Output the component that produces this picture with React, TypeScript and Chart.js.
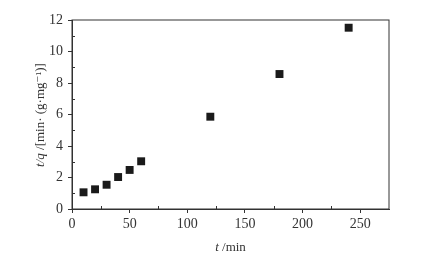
import React, { useEffect, useRef } from "react";
import { Chart, registerables } from "chart.js";

Chart.register(...registerables);

const timeMin = [10, 20, 30, 40, 50, 60, 120, 180, 240];
const tOverQ = [1.06, 1.25, 1.54, 2.03, 2.48, 3.03, 5.86, 8.57, 11.51];
const xTicks = [0, 50, 100, 150, 200, 250];
const yTicks = [0, 2, 4, 6, 8, 10, 12];

const FONT = "'Liberation Serif', 'DejaVu Serif', serif";
const INK = "#333333";

const framePlugin = {
  id: "frame",
  afterDraw(chart: any) {
    const { ctx, chartArea: a, scales } = chart;
    const x = scales.x, y = scales.y;
    ctx.save();
    ctx.strokeStyle = INK;
    ctx.lineWidth = 1;
    ctx.strokeRect(a.left, a.top, a.right - a.left, a.bottom - a.top);
    ctx.beginPath();
    for (let v = 25; v < 275; v += 50) {
      const px = Math.round(x.getPixelForValue(v)) + 0.5;
      ctx.moveTo(px, a.bottom);
      ctx.lineTo(px, a.bottom - 3);
    }
    for (let v = 1; v < 12; v += 2) {
      const py = Math.round(y.getPixelForValue(v)) + 0.5;
      ctx.moveTo(a.left, py);
      ctx.lineTo(a.left + 3, py);
    }
    ctx.stroke();
    ctx.fillStyle = INK;
    ctx.textBaseline = "middle";
    const drawMixed = (parts: [string, boolean][], cx: number, cy: number, rot: number) => {
      ctx.save();
      ctx.translate(cx, cy);
      ctx.rotate(rot);
      let total = 0;
      const widths = parts.map(([t, it]) => {
        ctx.font = `${it ? "italic " : ""}13px ${FONT}`;
        const w = ctx.measureText(t).width;
        total += w;
        return w;
      });
      let pos = -total / 2;
      parts.forEach(([t, it], i) => {
        ctx.font = `${it ? "italic " : ""}13px ${FONT}`;
        ctx.textAlign = "left";
        ctx.fillText(t, pos, 0);
        pos += widths[i];
      });
      ctx.restore();
    };
    drawMixed([["t", true], [" /min", false]], (a.left + a.right) / 2, 248, 0);
    drawMixed([["t/q", true], [" /[min· (g·mg⁻¹)]", false]], 41, 115, -Math.PI / 2);
    ctx.restore();
  },
};

export default function App() {
  const ref = useRef<HTMLCanvasElement>(null);
  useEffect(() => {
    document.body.style.margin = "0";
    const chart = new Chart(ref.current!, {
      type: "scatter",
      data: {
        datasets: [
          {
            data: timeMin.map((t, i) => ({ x: t, y: tOverQ[i] })),
            pointStyle: "rect",
            radius: 5.6,
            backgroundColor: "#1a1a1a",
            borderColor: "#1a1a1a",
            borderWidth: 0,
          },
        ],
      },
      plugins: [framePlugin],
      options: {
        animation: false,
        responsive: false,
        layout: { padding: { top: 20, right: 36, left: 0, bottom: 0 } },
        plugins: { legend: { display: false }, tooltip: { enabled: false } },
        scales: {
          x: {
            type: "linear",
            min: 0,
            max: 275,
            afterFit: (s: any) => { s.height = 49; },
            afterBuildTicks: (s: any) => { s.ticks = xTicks.map((v) => ({ value: v })); },
            grid: { display: true, drawOnChartArea: false, drawTicks: true, tickLength: 4, color: INK },
            border: { display: true, color: INK },
            ticks: { color: INK, font: { family: FONT, size: 14 }, padding: 3, maxRotation: 0 },
          },
          y: {
            type: "linear",
            min: 0,
            max: 12,
            afterFit: (s: any) => { s.width = 72; },
            afterBuildTicks: (s: any) => { s.ticks = yTicks.map((v) => ({ value: v })); },
            grid: { display: true, drawOnChartArea: false, drawTicks: true, tickLength: 4, color: INK },
            border: { display: true, color: INK },
            ticks: { color: INK, font: { family: FONT, size: 14 }, padding: 5 },
          },
        },
      },
    });
    return () => chart.destroy();
  }, []);
  return (
    <div style={{ position: "absolute", left: 0, top: 0, width: 425, height: 258, background: "#fff" }}>
      <canvas ref={ref} width={425} height={258} />
    </div>
  );
}
